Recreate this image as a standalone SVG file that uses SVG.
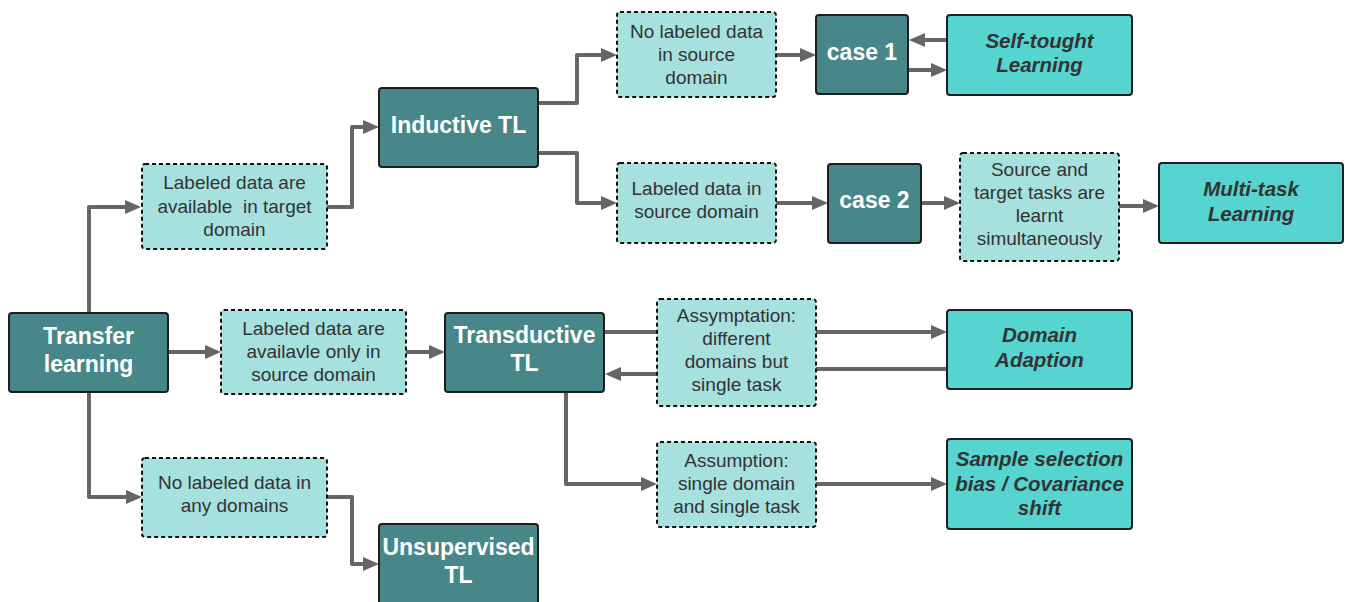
<svg xmlns="http://www.w3.org/2000/svg" width="1346" height="602" viewBox="0 0 1346 602">
  <defs>
    <style>
      .dark { fill: #47878a; stroke: #1e1e1e; stroke-width: 2; }
      .cond { fill: #a6e1df; stroke: #111; stroke-width: 2; stroke-dasharray: 4 3; }
      .leaf { fill: #55d4d0; stroke: #1e1e1e; stroke-width: 2; }
      .tdark { font-family: "Liberation Sans", Arial, sans-serif; font-weight: bold; font-size: 23px; fill: #ffffff; text-anchor: middle; }
      .tcond { font-family: "Liberation Sans", Arial, sans-serif; font-size: 19px; fill: #333333; text-anchor: middle; }
      .tleaf { font-family: "Liberation Sans", Arial, sans-serif; font-weight: bold; font-style: italic; font-size: 20.5px; fill: #333333; text-anchor: middle; }
      .conn { fill: none; stroke: #666666; stroke-width: 4; stroke-linejoin: round; marker-end: url(#arrow); }
      .plain { fill: none; stroke: #666666; stroke-width: 4; stroke-linejoin: round; }
    </style>
    <marker id="arrow" markerUnits="userSpaceOnUse" markerWidth="16" markerHeight="14" refX="10" refY="7" orient="auto">
      <path d="M0,0 L16,7 L0,14 Z" fill="#666666"/>
    </marker>
  </defs>

  <rect width="1346" height="602" fill="#ffffff"/>

  <!-- connectors (drawn first so boxes sit on top) -->
  <g id="connectors">
    <path class="conn" d="M89,313 V207 H135"/>
    <path class="conn" d="M327,207 H352 V127 H373"/>
    <path class="conn" d="M168,352 H215"/>
    <path class="conn" d="M89,392 V497 H136"/>
    <path class="conn" d="M327,497 H352 V564 H373"/>
    <path class="conn" d="M406,352 H439"/>
    <path class="conn" d="M538,103 H577 V55 H611"/>
    <path class="conn" d="M538,153 H577 V203 H611"/>
    <path class="conn" d="M776,55 H810"/>
    <path class="conn" d="M776,203 H822"/>
    <path class="conn" d="M947,40 H915"/>
    <path class="conn" d="M908,70 H941"/>
    <path class="conn" d="M921,203 H954"/>
    <path class="conn" d="M1119,206 H1153"/>
    <path class="conn" d="M604,332 H941"/>
    <path class="conn" d="M947,369 H740 V374 H611"/>
    <path class="conn" d="M566,392 V484 H651"/>
    <path class="conn" d="M816,484 H941"/>
  </g>

  <g id="transfer-learning">
    <rect class="dark" x="9" y="313" width="159" height="79" rx="3"/>
    <text class="tdark" x="88.5" y="344">Transfer</text>
    <text class="tdark" x="88.5" y="372">learning</text>
  </g>

  <g id="labeled-target">
    <rect class="cond" x="142" y="164" width="185" height="85" rx="3"/>
    <text class="tcond" x="234.5" y="189">Labeled data are</text>
    <text class="tcond" x="234.5" y="213" xml:space="preserve">available  in target</text>
    <text class="tcond" x="234.5" y="236">domain</text>
  </g>

  <g id="labeled-source-only">
    <rect class="cond" x="221" y="310" width="185" height="84" rx="3"/>
    <text class="tcond" x="313.5" y="335">Labeled data are</text>
    <text class="tcond" x="313.5" y="358">availavle only in</text>
    <text class="tcond" x="313.5" y="381">source domain</text>
  </g>

  <g id="no-labeled-any">
    <rect class="cond" x="142" y="458" width="185" height="79" rx="3"/>
    <text class="tcond" x="234.5" y="489">No labeled data in</text>
    <text class="tcond" x="234.5" y="512">any domains</text>
  </g>

  <g id="inductive-tl">
    <rect class="dark" x="379" y="88" width="159" height="79" rx="3"/>
    <text class="tdark" x="458.5" y="133">Inductive TL</text>
  </g>

  <g id="transductive-tl">
    <rect class="dark" x="445" y="313" width="159" height="79" rx="3"/>
    <text class="tdark" x="524.5" y="343">Transductive</text>
    <text class="tdark" x="524.5" y="371">TL</text>
  </g>

  <g id="unsupervised-tl">
    <rect class="dark" x="379" y="524" width="159" height="90" rx="3"/>
    <text class="tdark" x="458.5" y="555">Unsupervised</text>
    <text class="tdark" x="458.5" y="583">TL</text>
  </g>

  <g id="no-labeled-source">
    <rect class="cond" x="617" y="12" width="159" height="85" rx="3"/>
    <text class="tcond" x="696.5" y="38">No labeled data</text>
    <text class="tcond" x="696.5" y="61">in source</text>
    <text class="tcond" x="696.5" y="84">domain</text>
  </g>

  <g id="labeled-source">
    <rect class="cond" x="617" y="163" width="159" height="80" rx="3"/>
    <text class="tcond" x="696.5" y="195">Labeled data in</text>
    <text class="tcond" x="696.5" y="218">source domain</text>
  </g>

  <g id="case-1">
    <rect class="dark" x="816" y="15" width="92" height="79" rx="3"/>
    <text class="tdark" x="862" y="60">case 1</text>
  </g>

  <g id="case-2">
    <rect class="dark" x="828" y="164" width="93" height="79" rx="3"/>
    <text class="tdark" x="874.5" y="208">case 2</text>
  </g>

  <g id="self-taught">
    <rect class="leaf" x="947" y="15" width="185" height="80" rx="3"/>
    <text class="tleaf" x="1039.5" y="48">Self-tought</text>
    <text class="tleaf" x="1039.5" y="72">Learning</text>
  </g>

  <g id="simultaneous-tasks">
    <rect class="cond" x="960" y="153" width="159" height="108" rx="3"/>
    <text class="tcond" x="1039.5" y="176">Source and</text>
    <text class="tcond" x="1039.5" y="199">target tasks are</text>
    <text class="tcond" x="1039.5" y="222">learnt</text>
    <text class="tcond" x="1039.5" y="245">simultaneously</text>
  </g>

  <g id="multi-task">
    <rect class="leaf" x="1159" y="163" width="184" height="80" rx="3"/>
    <text class="tleaf" x="1251" y="196">Multi-task</text>
    <text class="tleaf" x="1251" y="221">Learning</text>
  </g>

  <g id="different-domains">
    <rect class="cond" x="657" y="299" width="159" height="107" rx="3"/>
    <text class="tcond" x="736.5" y="322">Assymptation:</text>
    <text class="tcond" x="736.5" y="345">different</text>
    <text class="tcond" x="736.5" y="368">domains but</text>
    <text class="tcond" x="736.5" y="391">single task</text>
  </g>

  <g id="single-domain">
    <rect class="cond" x="657" y="442" width="159" height="85" rx="3"/>
    <text class="tcond" x="736.5" y="467">Assumption:</text>
    <text class="tcond" x="736.5" y="490">single domain</text>
    <text class="tcond" x="736.5" y="513">and single task</text>
  </g>

  <g id="domain-adaption">
    <rect class="leaf" x="947" y="310" width="185" height="79" rx="3"/>
    <text class="tleaf" x="1039.5" y="342">Domain</text>
    <text class="tleaf" x="1039.5" y="367">Adaption</text>
  </g>

  <g id="covariance-shift">
    <rect class="leaf" x="947" y="439" width="185" height="90" rx="3"/>
    <text class="tleaf" x="1039.5" y="466">Sample selection</text>
    <text class="tleaf" x="1039.5" y="491">bias / Covariance</text>
    <text class="tleaf" x="1039.5" y="515">shift</text>
  </g>
</svg>
